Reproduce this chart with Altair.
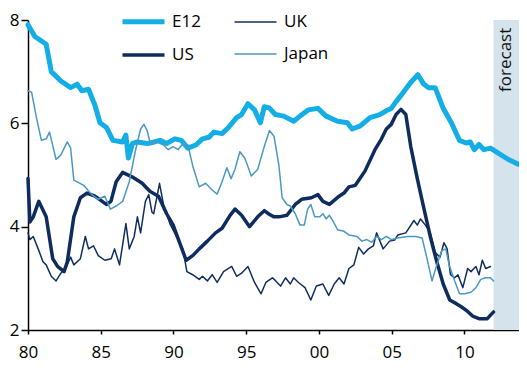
import altair as alt
import pandas as pd

# ---- data ----
series_names = ["E12", "UK", "US", "Japan"]
series_colors = ["#14aee6", "#102f60", "#0e2c5e", "#4b98c4"]
series_widths = [5, 1.5, 3.5, 1.5]

e12_year = [1980.0, 1980.47, 1981.25, 1981.6, 1982.26, 1982.93, 1983.38, 1983.7, 1984.16, 1984.6,
            1984.95, 1985.39, 1985.84, 1986.5, 1986.73, 1986.9, 1987.18, 1987.52, 1988.19, 1988.4,
            1989.08, 1989.53, 1990.09, 1990.54, 1990.99, 1991.54, 1991.99, 1992.44, 1992.77, 1993.33,
            1993.78, 1994.34, 1994.68, 1995.12, 1995.57, 1995.97, 1996.24, 1996.58, 1997.0, 1997.58,
            1998.26, 1998.7, 1999.26, 1999.93, 2000.49, 2001.28, 2001.95, 2002.28, 2002.84, 2003.51,
            2004.18, 2004.74, 2004.97, 2005.3, 2005.64, 2006.3, 2006.8, 2007.2, 2007.54, 2007.99,
            2008.54, 2009.1, 2009.66, 2010.11, 2010.4, 2010.67, 2011.0, 2011.34, 2011.79, 2012.35,
            2013.02, 2013.69]
e12_val = [7.91, 7.68, 7.53, 7.0, 6.82, 6.69, 6.76, 6.63, 6.66, 6.35,
           6.01, 5.92, 5.67, 5.64, 5.77, 5.33, 5.61, 5.64, 5.61, 5.62,
           5.67, 5.61, 5.70, 5.67, 5.52, 5.58, 5.70, 5.73, 5.83, 5.80,
           5.92, 6.11, 6.17, 6.38, 6.26, 6.01, 6.32, 6.30, 6.17, 6.14,
           6.04, 6.14, 6.26, 6.29, 6.14, 6.04, 6.01, 5.89, 5.95, 6.11,
           6.17, 6.26, 6.29, 6.42, 6.54, 6.79, 6.94, 6.76, 6.69, 6.69,
           6.29, 6.01, 5.67, 5.62, 5.64, 5.49, 5.59, 5.49, 5.52, 5.42,
           5.30, 5.21]

us_year = [1980.0, 1980.13, 1980.36, 1980.74, 1981.25, 1981.7, 1982.03, 1982.48, 1982.7, 1983.15,
           1983.6, 1984.05, 1984.6, 1985.39, 1985.7, 1986.06, 1986.5, 1987.18, 1987.85, 1988.19,
           1988.4, 1988.97, 1989.53, 1989.98, 1990.42, 1990.87, 1991.32, 1991.77, 1992.33, 1992.89,
           1993.34, 1993.89, 1994.23, 1994.68, 1995.23, 1995.79, 1996.24, 1996.58, 1996.91, 1997.25,
           1997.8, 1998.37, 1998.81, 1999.48, 1999.93, 2000.27, 2000.72, 2001.39, 2001.72, 2002.06,
           2002.5, 2003.17, 2003.85, 2004.3, 2004.63, 2004.97, 2005.3, 2005.64, 2005.97, 2006.31,
           2006.76, 2007.2, 2007.65, 2008.1, 2008.54, 2008.99, 2009.44, 2009.78, 2010.22, 2010.56,
           2011.0, 2011.57, 2012.0]
us_val = [4.93, 4.09, 4.19, 4.49, 4.19, 3.38, 3.23, 3.13, 3.32, 4.19,
          4.56, 4.65, 4.59, 4.43, 4.49, 4.87, 5.05, 4.96, 4.84, 4.74,
          4.68, 4.59, 4.25, 4.03, 3.69, 3.35, 3.44, 3.57, 3.72, 3.88,
          3.97, 4.22, 4.34, 4.22, 4.00, 4.19, 4.31, 4.24, 4.19, 4.19,
          4.22, 4.43, 4.53, 4.56, 4.62, 4.49, 4.43, 4.59, 4.65, 4.77,
          4.80, 5.08, 5.49, 5.70, 5.89, 5.98, 6.17, 6.27, 6.17, 5.55,
          4.93, 4.37, 3.81, 3.32, 2.89, 2.58, 2.51, 2.45, 2.36, 2.27,
          2.22, 2.22, 2.35]

uk_year = [1980.0, 1980.13, 1980.36, 1980.7, 1981.03, 1981.25, 1981.6, 1981.93, 1982.26, 1982.6,
           1982.93, 1983.15, 1983.6, 1983.94, 1984.16, 1984.5, 1984.83, 1985.28, 1985.72, 1985.95,
           1986.29, 1986.73, 1986.96, 1987.3, 1987.52, 1987.74, 1988.07, 1988.3, 1988.52, 1988.64,
           1989.04, 1989.31, 1989.75, 1990.2, 1990.65, 1990.92, 1991.32, 1991.77, 1991.99, 1992.33,
           1992.66, 1993.0, 1993.44, 1994.0, 1994.34, 1994.68, 1995.12, 1995.57, 1996.02, 1996.35,
           1996.8, 1997.03, 1997.36, 1997.7, 1998.03, 1998.26, 1998.59, 1999.04, 1999.44, 1999.82,
           2000.27, 2000.67, 2001.05, 2001.39, 2001.72, 2002.06, 2002.4, 2002.73, 2003.07, 2003.4,
           2003.74, 2003.96, 2004.41, 2004.85, 2005.2, 2005.42, 2005.97, 2006.53, 2006.76, 2006.98,
           2007.32, 2007.65, 2007.99, 2008.32, 2008.59, 2008.81, 2009.04, 2009.33, 2009.55, 2009.89,
           2010.22, 2010.45, 2010.79, 2011.0, 2011.23, 2011.46, 2011.79]
uk_val = [3.88, 3.75, 3.81, 3.57, 3.32, 3.26, 3.04, 2.95, 3.10, 3.20,
          3.41, 3.26, 3.38, 3.81, 3.57, 3.63, 3.44, 3.35, 3.38, 3.57,
          3.26, 4.06, 3.57, 3.81, 4.19, 3.88, 4.49, 4.62, 4.28, 4.25,
          4.84, 4.43, 4.06, 3.81, 3.57, 3.13, 3.07, 2.98, 3.04, 2.95,
          3.07, 2.92, 3.13, 3.23, 3.04, 3.10, 3.23, 2.92, 2.70, 2.92,
          3.01, 2.95, 2.85, 3.01, 2.89, 3.01, 2.92, 2.82, 2.58, 2.85,
          2.89, 2.67, 2.89, 3.01, 2.89, 3.19, 3.26, 3.60, 3.47, 3.57,
          3.63, 3.88, 3.57, 3.72, 3.74, 3.84, 3.88, 4.12, 4.03, 4.15,
          4.03, 3.88, 3.50, 3.41, 3.69, 3.57, 3.07, 3.01, 3.07, 2.82,
          3.19, 3.13, 3.23, 3.07, 3.35, 3.19, 3.23]

japan_year = [1980.0, 1980.25, 1980.58, 1980.92, 1981.25, 1981.48, 1981.93, 1982.26, 1982.7, 1982.93,
              1983.15, 1983.83, 1984.38, 1984.83, 1985.28, 1985.66, 1986.06, 1986.51, 1986.96, 1987.4,
              1987.74, 1987.97, 1988.19, 1988.41, 1988.86, 1989.31, 1989.64, 1989.98, 1990.32, 1990.65,
              1990.99, 1991.32, 1991.77, 1992.21, 1992.66, 1993.0, 1993.34, 1993.67, 1993.96, 1994.23,
              1994.56, 1994.9, 1995.35, 1995.79, 1996.24, 1996.6, 1996.91, 1997.25, 1997.47, 1997.8,
              1998.03, 1998.37, 1998.7, 1998.99, 1999.22, 1999.44, 1999.71, 2000.05, 2000.27, 2000.49,
              2000.72, 2000.94, 2001.28, 2001.72, 2002.06, 2002.62, 2002.95, 2003.29, 2003.62, 2003.96,
              2004.3, 2004.63, 2005.0, 2005.42, 2006.09, 2006.64, 2007.09, 2007.43, 2007.77, 2008.1,
              2008.44, 2008.72, 2008.95, 2009.33, 2009.66, 2010.0, 2010.45, 2010.79, 2011.12, 2011.46,
              2011.79, 2012.0]
japan_val = [6.63, 6.60, 6.11, 5.67, 5.70, 5.83, 5.30, 5.39, 5.64, 5.52,
             4.90, 4.80, 4.62, 4.53, 4.59, 4.34, 4.40, 4.49, 4.87, 5.49,
             5.89, 5.98, 5.86, 5.61, 5.64, 5.58, 5.49, 5.55, 5.49, 5.61,
             5.58, 5.18, 4.77, 4.84, 4.71, 4.63, 4.87, 5.14, 4.93, 5.11,
             5.45, 5.33, 4.98, 5.11, 5.55, 5.86, 5.75, 5.18, 4.56, 4.43,
             4.40, 4.25, 4.03, 4.03, 4.34, 4.43, 4.19, 4.19, 4.25, 4.15,
             4.22, 4.12, 3.94, 3.91, 3.84, 3.81, 3.72, 3.75, 3.70, 3.81,
             3.75, 3.81, 3.75, 3.78, 3.81, 3.81, 3.78, 3.38, 2.95, 3.26,
             3.54, 3.57, 3.26, 2.95, 2.70, 2.70, 2.73, 2.82, 2.98, 3.01,
             3.01, 2.95]

x_domain = [1980, 2013.75]
y_domain = [2, 8]
x_ticks = [1980, 1985, 1990, 1995, 2000, 2005, 2010]
y_ticks = [2, 4, 6, 8]
forecast_start = 2012.0
forecast_label = "forecast"

# ---- build tables ----
rows = []
for name, ys, vs in [("E12", e12_year, e12_val), ("UK", uk_year, uk_val),
                     ("US", us_year, us_val), ("Japan", japan_year, japan_val)]:
    rows += [{"series": name, "year": y, "value": v} for y, v in zip(ys, vs)]
df = pd.DataFrame(rows)

shade_df = pd.DataFrame({"year": [forecast_start], "year2": [x_domain[1]],
                         "value": [y_domain[0]], "value2": [y_domain[1]]})
text_df = pd.DataFrame({"year": [(forecast_start + x_domain[1]) / 2],
                        "value": [7.85], "label": [forecast_label]})

FONT = "Open Sans"

x_axis = alt.Axis(values=x_ticks, labelExpr="format(datum.value % 100, '02d')",
                  tickSize=4, labelPadding=10, grid=False, labelFlush=False)
y_axis = alt.Axis(values=y_ticks, format="d", tickSize=7, labelPadding=2, grid=False,
                  labelFlush=False)
x_scale = alt.Scale(domain=x_domain, nice=False, zero=False)
y_scale = alt.Scale(domain=y_domain, nice=False, zero=False)

legend = alt.Legend(orient="none", legendX=92, legendY=-22, columns=2, direction="horizontal",
                    title=None, symbolType="stroke", symbolSize=1764, labelFontSize=17,
                    labelFont=FONT, labelColor="black", labelOffset=5, columnPadding=30,
                    rowPadding=0, padding=0)

shade = alt.Chart(shade_df).mark_rect(color="#d5e3ec").encode(
    x=alt.X("year:Q", scale=x_scale, axis=x_axis, title=None),
    x2="year2:Q",
    y=alt.Y("value:Q", scale=y_scale, axis=y_axis, title=None),
    y2="value2:Q",
)

lines = alt.Chart(df).mark_line(strokeJoin="round", strokeCap="round").encode(
    x=alt.X("year:Q", scale=x_scale, axis=x_axis, title=None),
    y=alt.Y("value:Q", scale=y_scale, axis=y_axis, title=None),
    color=alt.Color("series:N", scale=alt.Scale(domain=series_names, range=series_colors),
                    legend=legend),
    strokeWidth=alt.StrokeWidth("series:N",
                                scale=alt.Scale(type="ordinal", domain=series_names,
                                                range=series_widths),
                                legend=legend),
    detail="series:N",
)

text = alt.Chart(text_df).mark_text(angle=270, align="right", baseline="middle",
                                    fontSize=17, font=FONT, color="#111111").encode(
    x=alt.X("year:Q", scale=x_scale, axis=x_axis, title=None),
    y=alt.Y("value:Q", scale=y_scale, axis=y_axis, title=None),
    text="label:N",
)

chart = alt.layer(shade, lines, text).properties(
    width=491, height=310,
    padding={"left": 20, "top": 12, "right": 0, "bottom": 34},
    autosize="none",
).configure_view(stroke=None).configure_axis(
    labelFont=FONT, labelFontSize=17, labelColor="black",
    domainColor="black", tickColor="black", domainWidth=1.5, tickWidth=1.5,
)

chart.save("out.html", embed_options={"renderer": "svg", "actions": False})
